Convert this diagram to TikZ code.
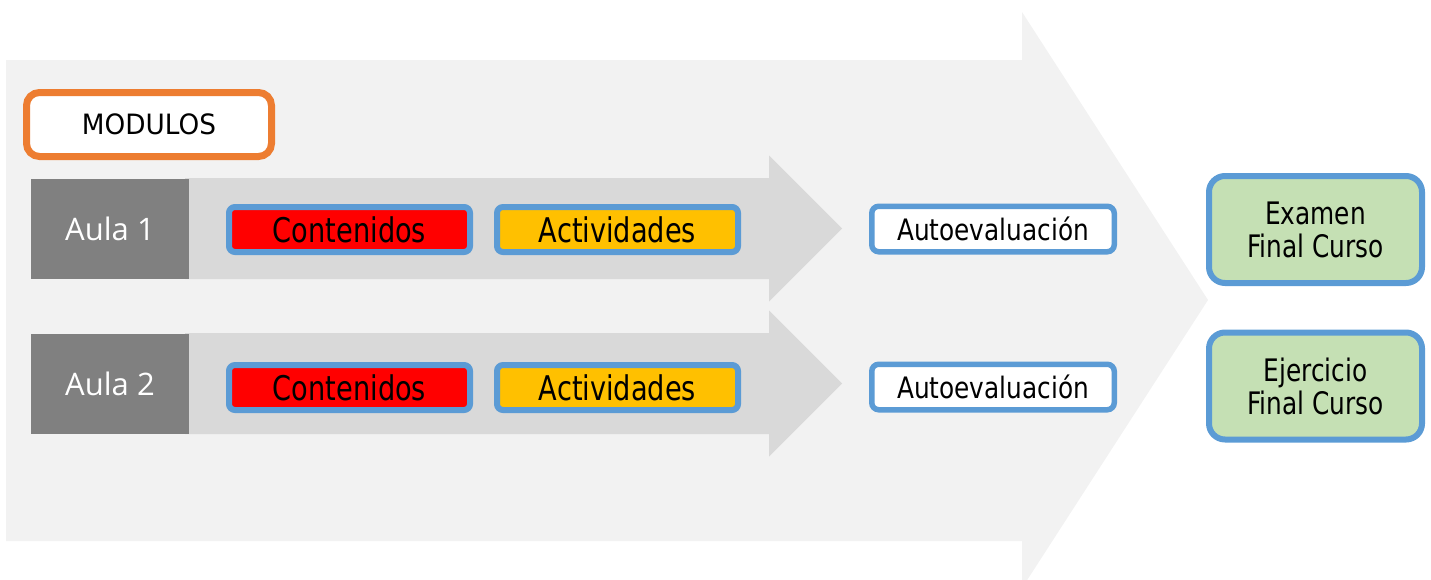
\documentclass[tikz,border=0pt]{standalone}
\usepackage{fontspec}
\setmainfont{DejaVu Sans}
\newfontfamily\modfont{DejaVu Sans}[FakeStretch=0.94]
\newfontfamily\autofont{DejaVu Sans}[FakeStretch=0.84]
\newfontfamily\narrowfont{DejaVu Sans}[FakeStretch=0.8]
\newfontfamily\aulafont{Open Sans}
\usepackage{xcolor}
\usepackage{tikz}
\usetikzlibrary{positioning}
\definecolor{bgarrow}{HTML}{F2F2F2}
\definecolor{modarrow}{HTML}{D9D9D9}
\definecolor{aulagray}{HTML}{808080}
\definecolor{boxblue}{HTML}{5B9BD5}
\definecolor{modorange}{HTML}{ED7D31}
\definecolor{contred}{HTML}{FF0000}
\definecolor{actyellow}{HTML}{FFC000}
\definecolor{finalgreen}{HTML}{C5E0B4}

\tikzset{
aulabox/.style={fill=aulagray,text=white,inner sep=0pt,
minimum width=158pt,minimum height=100pt,
font=\aulafont\fontsize{31pt}{36pt}\selectfont},
itembox/.style={draw=boxblue,line width=6pt,rounded corners=6pt,inner sep=0pt,
minimum width=241pt,minimum height=45pt,
font=\narrowfont\fontsize{34pt}{40pt}\selectfont},
autobox/.style={draw=boxblue,fill=white,line width=5.5pt,rounded corners=7pt,inner sep=0pt,
minimum width=242.5pt,minimum height=45.5pt,
font=\autofont\fontsize{29.5pt}{34pt}\selectfont},
finalbox/.style={draw=boxblue,fill=finalgreen,line width=6pt,rounded corners=16pt,inner sep=0pt,
minimum width=213pt,minimum height=107pt,align=center,
font=\narrowfont\fontsize{31pt}{33pt}\selectfont}
}

\begin{document}
\begin{tikzpicture}[x=1pt,y=-1pt]
\useasboundingbox (0,0) rectangle (1431,579);
\clip (0,0) rectangle (1431,579);

%big arrow:
\fill[bgarrow] (6,60) -- (1022,60) -- (1022,12) -- (1208,300)
 -- (1022,588) -- (1022,541) -- (6,541) -- cycle;

\node[draw=modorange,fill=white,line width=7pt,rounded corners=13pt,inner sep=0pt,
minimum width=245pt,minimum height=64pt,
font=\modfont\fontsize{28pt}{32pt}\selectfont] (modulos) at (149,124.5) {MODULOS};

%----------aulas
\foreach \i/\ym/\yb in {1/228.5/229.5, 2/383.5/387.5}{%
%arrow:
\fill[modarrow] (185,\ym-50.5) -- (769,\ym-50.5) -- (769,\ym-73) -- (842,\ym)
 -- (769,\ym+73) -- (769,\ym+50.5) -- (185,\ym+50.5) -- cycle;
\node[aulabox] (aula\i) at (110,\ym) {Aula \i};
\node[itembox,fill=contred] (cont\i) at (349.5,\yb) {Contenidos};
\node[itembox,fill=actyellow] (act\i) at (617.5,\yb) {Actividades};
\node[autobox] (auto\i) at (993,\yb-0.5) {Autoevaluación};
}

%final:
\node[finalbox] (examen) at (1315.5,229.5) {Examen\\Final Curso};
\node[finalbox] (ejercicio) at (1315.5,386) {Ejercicio\\Final Curso};

\end{tikzpicture}
\end{document}
